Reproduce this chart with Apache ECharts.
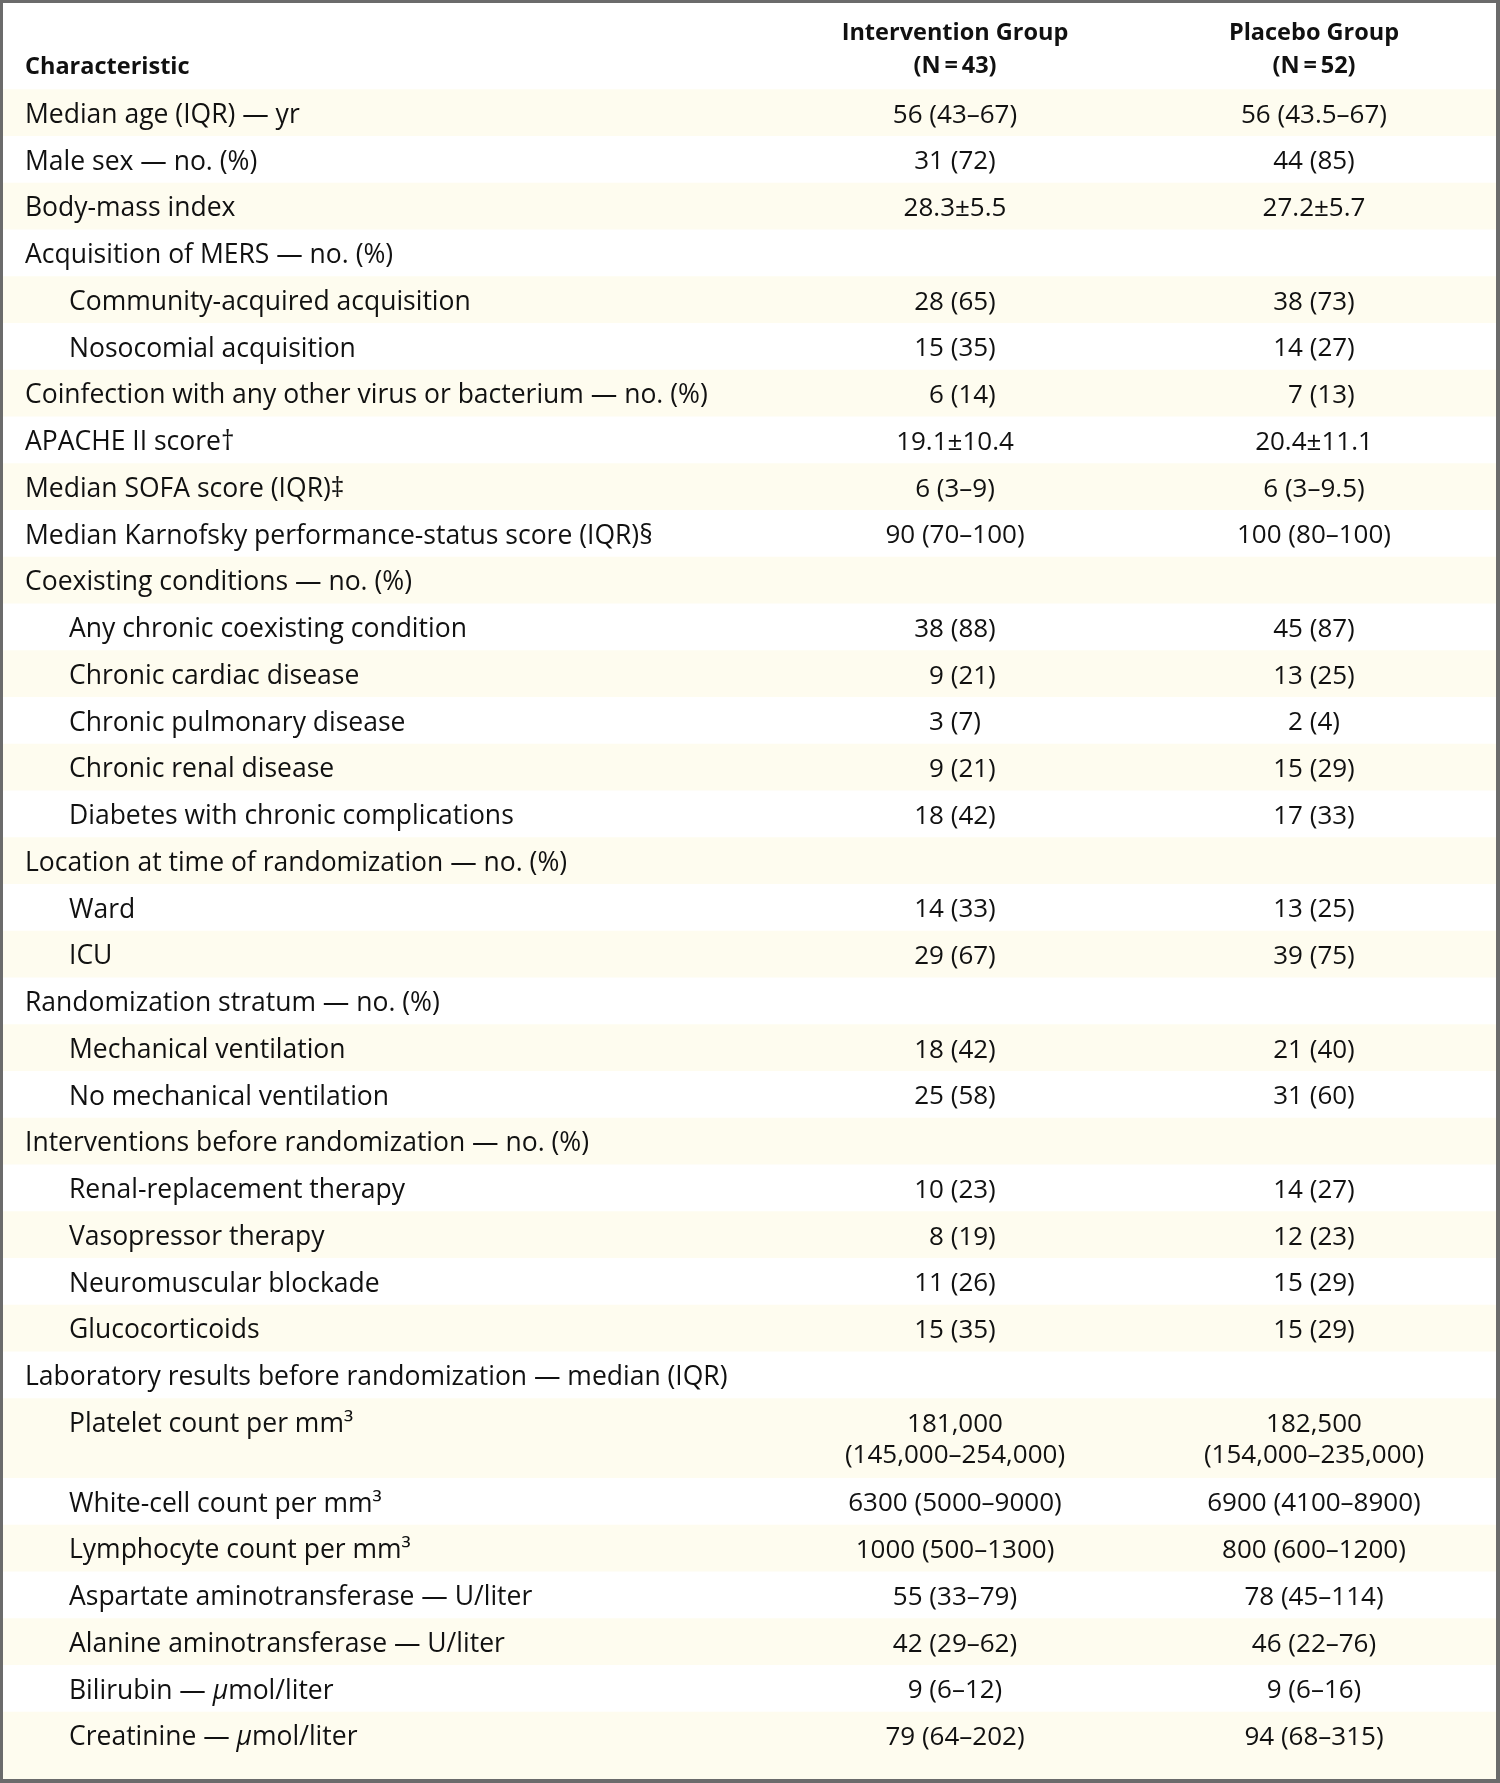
<!DOCTYPE html>
<html><head><meta charset="utf-8">
<script src="https://cdn.jsdelivr.net/npm/echarts@6/dist/echarts.min.js"></script>
<style>html,body{margin:0;padding:0;background:#fff}#c{width:1500px;height:1783px}</style>
</head><body><div id="c"></div><script>
// ---------- data ----------
const headerCols = ['Characteristic', 'Intervention Group\n(N\u2009=\u200943)', 'Placebo Group\n(N\u2009=\u200952)'];
const characteristics = [
  'Median age (IQR) — yr', 'Male sex — no. (%)', 'Body-mass index', 'Acquisition of MERS — no. (%)',
  'Community-acquired acquisition', 'Nosocomial acquisition',
  'Coinfection with any other virus or bacterium — no. (%)', 'APACHE II score†',
  'Median SOFA score (IQR)‡', 'Median Karnofsky performance-status score (IQR)§',
  'Coexisting conditions — no. (%)', 'Any chronic coexisting condition', 'Chronic cardiac disease',
  'Chronic pulmonary disease', 'Chronic renal disease', 'Diabetes with chronic complications',
  'Location at time of randomization — no. (%)', 'Ward', 'ICU',
  'Randomization stratum — no. (%)', 'Mechanical ventilation', 'No mechanical ventilation',
  'Interventions before randomization — no. (%)', 'Renal-replacement therapy', 'Vasopressor therapy',
  'Neuromuscular blockade', 'Glucocorticoids',
  'Laboratory results before randomization — median (IQR)', 'Platelet count per mm³',
  'White-cell count per mm³', 'Lymphocyte count per mm³', 'Aspartate aminotransferase — U/liter',
  'Alanine aminotransferase — U/liter', 'Bilirubin — μmol/liter', 'Creatinine — μmol/liter'
];
const indentLevel = [0,0,0,0,1,1,0,0,0,0,0,1,1,1,1,1,0,1,1,0,1,1,0,1,1,1,1,0,1,1,1,1,1,1,1];
const interventionValues = [
  '56 (43–67)', '31 (72)', '28.3±5.5', '', '28 (65)', '15 (35)', '\u20076 (14)', '19.1±10.4',
  '6 (3–9)', '90 (70–100)', '', '38 (88)', '\u20079 (21)', '3 (7)', '\u20079 (21)', '18 (42)', '',
  '14 (33)', '29 (67)', '', '18 (42)', '25 (58)', '', '10 (23)', '\u20078 (19)', '11 (26)', '15 (35)', '',
  '181,000\n(145,000–254,000)', '6300 (5000–9000)', '1000 (500–1300)', '55 (33–79)', '42 (29–62)',
  '9 (6–12)', '79 (64–202)'
];
const placeboValues = [
  '56 (43.5–67)', '44 (85)', '27.2±5.7', '', '38 (73)', '14 (27)', '\u20077 (13)', '20.4±11.1',
  '6 (3–9.5)', '100 (80–100)', '', '45 (87)', '13 (25)', '2 (4)', '15 (29)', '17 (33)', '',
  '13 (25)', '39 (75)', '', '21 (40)', '31 (60)', '', '14 (27)', '12 (23)', '15 (29)', '15 (29)', '',
  '182,500\n(154,000–235,000)', '6900 (4100–8900)', '800 (600–1200)', '78 (45–114)', '46 (22–76)',
  '9 (6–16)', '94 (68–315)'
];

// ---------- layout ----------
const FONT = '"Open Sans", "Noto Sans", sans-serif';
const FS_LABEL = 26.5, FS_VALUE = 26, FS_HEAD = 23.5;
const TEXT = '#111';
const SHADE = '#fefcef';
const FRAME = '#6b6b6b';
const TABLE_W = 1493, TABLE_H = 1776;
const HEADER_H = 86.3, ROW_H = 46.75, LINE_H = 33, VALUE_LINE_H = 31, TEXT_MID = 26;
const X_LABEL = [22, 66], X_INT = 952, X_PLA = 1311;

const rowTop = [], rowBot = [];
let acc = HEADER_H;
characteristics.forEach((c, i) => {
  const lines = Math.max(c.split('\n').length, interventionValues[i].split('\n').length, placeboValues[i].split('\n').length);
  rowTop.push(acc);
  acc += ROW_H + (lines - 1) * LINE_H;
  rowBot.push(i === characteristics.length - 1 ? TABLE_H : acc);
});

function richify(s) {
  return s.replace(/μ/g, '{i|μ}');
}

function textEl(api, x, yMid, str, align, fs, bold, lh) {
  const p = api.coord([x, yMid - lh / 2]);
  return {
    type: 'text',
    x: p[0], y: p[1],
    style: {
      text: richify(str),
      rich: { i: { fontStyle: 'italic', fontSize: fs, fontFamily: FONT, fill: TEXT, lineHeight: lh } },
      fontSize: fs, fontFamily: FONT, fontWeight: bold ? 'bold' : 'normal',
      fill: TEXT, align: align, verticalAlign: 'top', lineHeight: lh
    }
  };
}

function renderRow(params, api) {
  const i = api.value(1);
  const children = [];
  const p0 = api.coord([0, rowTop[i]]);
  const p1 = api.coord([TABLE_W, rowBot[i]]);
  if (i % 2 === 0) {
    children.push({ type: 'rect', shape: { x: p0[0], y: p0[1], width: p1[0] - p0[0], height: p1[1] - p0[1] }, style: { fill: SHADE } });
  }
  const ym = rowTop[i] + TEXT_MID;
  children.push(textEl(api, X_LABEL[indentLevel[i]], ym, characteristics[i], 'left', FS_LABEL, false, LINE_H));
  if (interventionValues[i]) children.push(textEl(api, X_INT, ym, interventionValues[i], 'center', FS_VALUE, false, VALUE_LINE_H));
  if (placeboValues[i]) children.push(textEl(api, X_PLA, ym, placeboValues[i], 'center', FS_VALUE, false, VALUE_LINE_H));
  return { type: 'group', children };
}

function renderHeader(params, api) {
  return {
    type: 'group',
    children: [
      textEl(api, X_LABEL[0], 64, headerCols[0], 'left', FS_HEAD, true, LINE_H),
      textEl(api, X_INT, 30.5, headerCols[1], 'center', FS_HEAD, true, LINE_H),
      textEl(api, X_PLA, 30.5, headerCols[2], 'center', FS_HEAD, true, LINE_H)
    ]
  };
}

const chart = echarts.init(document.getElementById('c'), null, { renderer: 'canvas' });
chart.setOption({
  backgroundColor: '#fff',
  animation: false,
  grid: { left: 3, top: 3, width: TABLE_W, height: TABLE_H },
  xAxis: { type: 'value', min: 0, max: TABLE_W, show: false },
  yAxis: { type: 'value', min: 0, max: TABLE_H, inverse: true, show: false },
  graphic: [
    { type: 'rect', shape: { x: 0, y: 0, width: 1500, height: 3 }, style: { fill: FRAME }, z: 100 },
    { type: 'rect', shape: { x: 0, y: 0, width: 3, height: 1783 }, style: { fill: FRAME }, z: 100 },
    { type: 'rect', shape: { x: 1496, y: 0, width: 4, height: 1783 }, style: { fill: FRAME }, z: 100 },
    { type: 'rect', shape: { x: 0, y: 1779, width: 1500, height: 4 }, style: { fill: FRAME }, z: 100 }
  ],
  series: [
    { type: 'custom', name: 'header', coordinateSystem: 'cartesian2d', clip: false,
      data: [[0, 0]], encode: { x: 0, y: 1 }, renderItem: renderHeader, silent: true },
    { type: 'custom', name: 'rows', coordinateSystem: 'cartesian2d', clip: false,
      data: characteristics.map((c, i) => [0, i]), encode: { x: 0, y: 1 }, renderItem: renderRow, silent: true }
  ]
});
</script></body></html>
